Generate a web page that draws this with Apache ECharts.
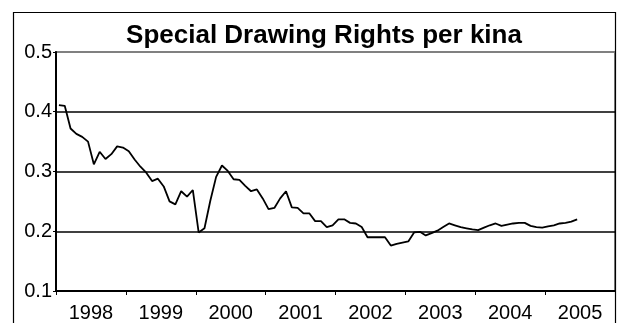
<!DOCTYPE html>
<html>
<head>
<meta charset="utf-8">
<script src="https://cdn.jsdelivr.net/npm/echarts@6/dist/echarts.min.js"></script>
<style>
  html, body { margin: 0; padding: 0; background: #fff; }
  #chart { width: 618px; height: 323px; }
</style>
</head>
<body>
<div id="chart"></div>
<script>
// 年份标签（每年一格）
const years = ["1998", "1999", "2000", "2001", "2002", "2003", "2004", "2005"];
// 每月的数值，从1998年1月开始
const sdrPerKina = [
  0.411, 0.410, 0.372, 0.363, 0.358, 0.350, 0.312, 0.333, 0.321, 0.329, 0.342, 0.340,
  0.334, 0.320, 0.308, 0.298, 0.284, 0.288, 0.275, 0.250, 0.245, 0.267, 0.258, 0.269,
  0.198, 0.205, 0.251, 0.291, 0.310, 0.301, 0.287, 0.286, 0.276, 0.267, 0.270, 0.255,
  0.237, 0.239, 0.255, 0.267, 0.240, 0.239, 0.230, 0.230, 0.217, 0.217, 0.207, 0.210,
  0.220, 0.220, 0.214, 0.213, 0.207, 0.190, 0.190, 0.190, 0.190, 0.176, 0.179, 0.181,
  0.183, 0.198, 0.199, 0.193, 0.197, 0.201, 0.207, 0.213, 0.210, 0.207, 0.205, 0.203,
  0.202, 0.206, 0.210, 0.213, 0.209, 0.211, 0.213, 0.214, 0.214, 0.209, 0.207, 0.206,
  0.208, 0.210, 0.213, 0.214, 0.216, 0.220
];
// 纵轴范围
const yMin = 0.1;
const yMax = 0.5;
const yStep = 0.1;

const fontName = '"Liberation Sans", Arial, sans-serif';
const chart = echarts.init(document.getElementById("chart"));

// 月份放在每个格子的中间
var lineData = sdrPerKina.map(function (v, i) {
  return [i + 0.5, v];
});

chart.setOption({
  animation: false,
  backgroundColor: "#fff",
  title: {
    text: "Special Drawing Rights per kina",
    left: 319,
    top: 18,
    textAlign: "center",
    textStyle: {
      fontFamily: fontName,
      fontSize: 26,
      fontWeight: "bold",
      color: "#000",
    },
  },
  // 外框
  graphic: [
    {
      type: "rect",
      shape: { x: 13.5, y: 12.5, width: 602, height: 400 },
      style: { fill: "none", stroke: "#000", lineWidth: 1.2 },
      z: 10,
    },
  ],
  grid: {
    left: 56,
    top: 52,
    right: 3,
    bottom: 30,
    show: true,
    borderColor: "#808080",
    borderWidth: 2,
  },
  xAxis: [
    {
      type: "category",
      data: years,
      boundaryGap: true,
      axisLine: { lineStyle: { color: "#000", width: 2 } },
      axisTick: { show: true, length: 4, lineStyle: { color: "#000", width: 1 } },
      axisLabel: {
        color: "#000",
        fontFamily: fontName,
        fontSize: 20,
        margin: 12,
      },
      splitLine: { show: false },
    },
    {
      type: "value",
      min: 0,
      max: years.length * 12,
      show: false,
    },
  ],
  yAxis: {
    type: "value",
    min: yMin,
    max: yMax,
    interval: yStep,
    axisLine: { show: true, lineStyle: { color: "#000", width: 2 } },
    axisTick: { show: true, length: 3, lineStyle: { color: "#000" } },
    axisLabel: {
      color: "#000",
      fontFamily: fontName,
      fontSize: 20,
      margin: 4,
      formatter: function (v) {
        return v.toFixed(1);
      },
    },
    splitLine: {
      show: true,
      showMaxLine: false,
      lineStyle: { color: "#000", width: 1.5 },
    },
  },
  series: [
    {
      name: "SDR per kina",
      type: "line",
      xAxisIndex: 1,
      data: lineData,
      symbol: "none",
      lineStyle: { color: "#000", width: 1.8 },
    },
  ],
});
</script>
</body>
</html>
